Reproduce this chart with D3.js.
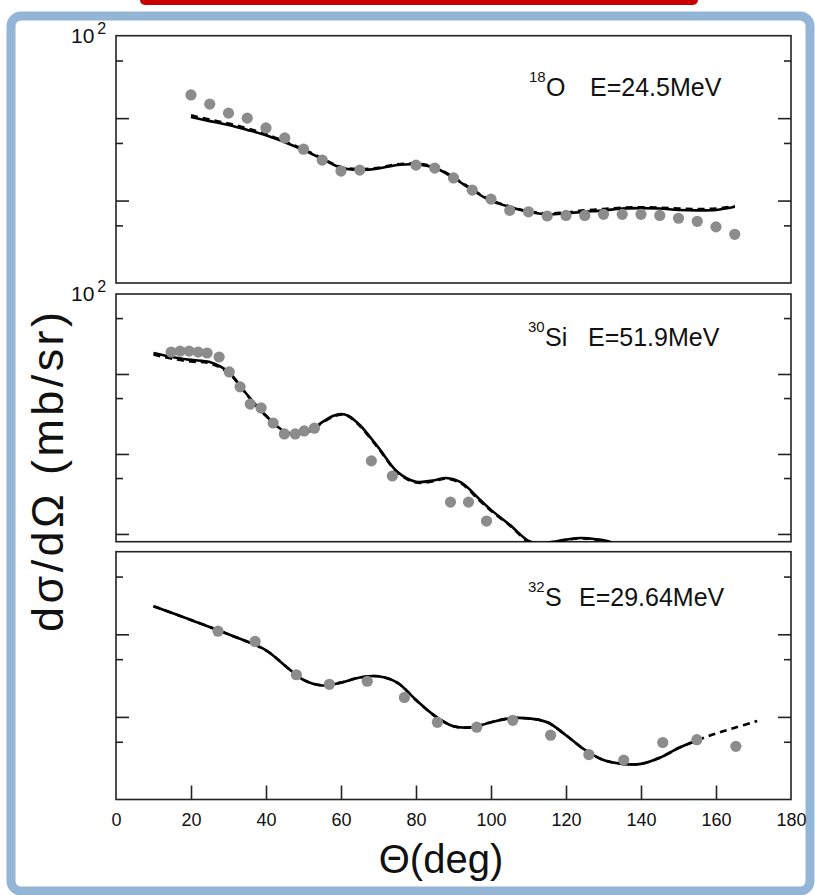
<!DOCTYPE html>
<meta charset="utf-8">
<style>
body {
  margin: 0;
  padding: 0;
  background: #fff;
}
text {
  font-family: "Liberation Sans", Arial, sans-serif;
  fill: #111;
}
.frame {
  fill: #fff;
  stroke: #94b5d5;
  stroke-width: 9px;
}
.box {
  fill: none;
  stroke: #222;
  stroke-width: 1.6px;
}
.tick line {
  stroke: #222;
  stroke-width: 1.6px;
}
.solid {
  fill: none;
  stroke: #000;
  stroke-width: 2.6px;
}
.dashed {
  fill: none;
  stroke: #000;
  stroke-width: 2.6px;
  stroke-dasharray: 7,5;
}
.dot {
  fill: #8c8c8c;
}
</style>
<body>
<script src="https://cdn.jsdelivr.net/npm/d3@7"></script>
<script>

// x axis
var xTicks = [0, 20, 40, 60, 80, 100, 120, 140, 160, 180];
var yMajor = [10, 1, 0.1];
var yMinor = [50, 5, 0.5];

// 18O  E=24.5MeV
var o18Angle = [20, 25, 30, 35, 40, 45, 50, 55, 60, 65, 80, 85, 90, 95, 100, 105, 110, 115, 120, 125, 130, 135, 140, 145, 150, 155, 160, 165];
var o18Data  = [19.1, 14.8, 11.5, 10.0, 7.6, 5.75, 4.2, 3.1, 2.28, 2.34, 2.69, 2.48, 1.88, 1.34, 1.04, 0.76, 0.73, 0.65, 0.66, 0.66, 0.68, 0.68, 0.68, 0.66, 0.61, 0.56, 0.48, 0.39];
var o18CurveAngle = [20, 25, 30, 35, 40, 45, 50, 55, 60, 65, 70, 75, 80, 85, 90, 95, 100, 105, 110, 115, 120, 125, 130, 135, 140, 145, 150, 155, 160, 165];
var o18Solid  = [10.3, 9.2, 8.25, 7.2, 6.2, 5.1, 4.1, 3.2, 2.5, 2.35, 2.45, 2.7, 2.75, 2.5, 1.88, 1.34, 0.99, 0.84, 0.73, 0.68, 0.70, 0.73, 0.76, 0.80, 0.81, 0.80, 0.77, 0.76, 0.77, 0.84];
var o18Dashed = [10.8, 9.6, 8.6, 7.5, 6.4, 5.2, 4.2, 3.25, 2.55, 2.4, 2.5, 2.75, 2.8, 2.55, 1.92, 1.37, 1.01, 0.85, 0.74, 0.70, 0.72, 0.76, 0.79, 0.82, 0.83, 0.82, 0.80, 0.79, 0.80, 0.86];

// 30Si  E=51.9MeV
var si30Angle = [14.7, 17.1, 19.5, 21.9, 24.3, 27.5, 30.2, 33.1, 35.8, 38.7, 41.9, 44.9, 47.8, 50.2, 52.9, 68.1, 73.7, 89.2, 94.0, 98.8];
var si30Data  = [18.8, 19.3, 19.3, 18.8, 18.3, 16.3, 10.6, 6.9, 4.2, 3.76, 2.44, 1.78, 1.78, 1.94, 2.1, 0.82, 0.53, 0.25, 0.25, 0.145];
var si30CurveAngle = [10, 15, 20, 25, 30, 35, 40, 45, 48, 52, 55, 58, 60, 62, 65, 70, 75, 80, 85, 88, 92, 97, 100, 105, 110, 113, 116, 120, 124, 128, 132, 136];
var si30Solid  = [18.3, 16.3, 15, 14.1, 10.6, 5.5, 3.0, 1.9, 1.78, 2.0, 2.5, 3.0, 3.16, 3.0, 2.3, 1.2, 0.6, 0.45, 0.47, 0.50, 0.44, 0.27, 0.2, 0.13, 0.082, 0.076, 0.079, 0.085, 0.089, 0.086, 0.079, 0.06];
var si30Dashed = [17.5, 15.5, 14.3, 13.6, 10.3, 5.4, 3.0, 1.88, 1.75, 1.95, 2.45, 2.95, 3.1, 2.95, 2.25, 1.17, 0.59, 0.44, 0.46, 0.49, 0.43, 0.26, 0.195, 0.128, 0.08, 0.075, 0.078, 0.084, 0.088, 0.085, 0.078, 0.06];

// 32S  E=29.64MeV
var s32Angle = [27.2, 37.1, 48.1, 56.9, 67, 76.9, 85.7, 96.2, 105.8, 115.9, 126.1, 135.4, 145.8, 154.9, 165.3];
var s32Data  = [10.9, 8.2, 3.24, 2.48, 2.7, 1.72, 0.86, 0.75, 0.91, 0.6, 0.35, 0.30, 0.49, 0.53, 0.44];
var s32CurveAngle = [10, 20, 30, 40, 45, 50, 55, 60, 65, 70, 75, 80, 85, 90, 95, 100, 105, 110, 115, 120, 125, 130, 135, 140, 145, 150, 154];
var s32Solid = [21.9, 14.9, 10, 6.4, 4.2, 2.8, 2.4, 2.6, 3.0, 3.1, 2.6, 1.6, 1.03, 0.77, 0.75, 0.86, 0.96, 0.96, 0.86, 0.6, 0.40, 0.30, 0.27, 0.27, 0.32, 0.42, 0.50];
var s32DashAngle = [10, 20, 30, 40, 45, 50, 55, 60, 65, 70, 75, 80, 85, 90, 95, 100, 105, 110, 115, 120, 125, 130, 135, 140, 145, 150, 155, 160, 165, 171];
var s32Dashed = [21.9, 14.9, 10, 6.4, 4.2, 2.8, 2.4, 2.6, 3.0, 3.1, 2.6, 1.6, 1.03, 0.77, 0.75, 0.86, 0.96, 0.96, 0.86, 0.6, 0.40, 0.30, 0.27, 0.27, 0.32, 0.42, 0.52, 0.63, 0.74, 0.89];

var panels = [
  { nucl: "18", el: "O", energy: "E=24.5MeV", top: 35.7, bottom: 283, lo: 0.1, labelY: 96, elX: 546, eX: 590, showTop: true,
    pts: [o18Angle, o18Data], solid: [o18CurveAngle, o18Solid], dashed: [o18CurveAngle, o18Dashed] },
  { nucl: "30", el: "Si", energy: "E=51.9MeV", top: 294, bottom: 541.7, lo: 0.08, labelY: 346, elX: 545, eX: 588, showTop: true,
    pts: [si30Angle, si30Data], solid: [si30CurveAngle, si30Solid], dashed: [si30CurveAngle, si30Dashed] },
  { nucl: "32", el: "S", energy: "E=29.64MeV", top: 551.7, bottom: 799.5, lo: 0.1, labelY: 606, elX: 545, eX: 579, showTop: false,
    pts: [s32Angle, s32Data], solid: [s32CurveAngle, s32Solid], dashed: [s32DashAngle, s32Dashed] }
];

var W = 815, H = 895,
    left = 116, right = 791;

var svg = d3.select("body").append("svg")
    .attr("width", W)
    .attr("height", H);

// red bar and blue frame
svg.append("rect")
    .attr("x", 140).attr("y", -8)
    .attr("width", 558).attr("height", 13)
    .attr("rx", 5)
    .style("fill", "#c90000");
svg.append("rect")
    .attr("class", "frame")
    .attr("x", 11).attr("y", 16)
    .attr("width", 799).attr("height", 875)
    .attr("rx", 10);

var x = d3.scaleLinear().domain([0, 180]).range([left, right]);

panels.forEach(function(p, i) {
  var y = d3.scaleLog().domain([p.lo, 100]).range([p.bottom, p.top]);
  var g = svg.append("g");

  g.append("clipPath").attr("id", "clip" + i)
    .append("rect")
      .attr("x", left).attr("y", p.top)
      .attr("width", right - left).attr("height", p.bottom - p.top);

  // ticks on both sides, pointing in
  var ticks = yMajor.filter(function(v) { return y(v) < p.bottom - 2; });
  g.append("g").attr("transform", "translate(" + left + ",0)")
      .call(d3.axisRight(y).tickValues(ticks).tickSize(13).tickFormat(""));
  g.append("g").attr("transform", "translate(" + left + ",0)")
      .call(d3.axisRight(y).tickValues(yMinor).tickSize(7).tickFormat(""));
  g.append("g").attr("transform", "translate(" + right + ",0)")
      .call(d3.axisLeft(y).tickValues(ticks).tickSize(13).tickFormat(""));
  g.append("g").attr("transform", "translate(" + right + ",0)")
      .call(d3.axisLeft(y).tickValues(yMinor).tickSize(7).tickFormat(""));
  g.selectAll(".domain").remove();

  g.append("rect")
      .attr("class", "box")
      .attr("x", left).attr("y", p.top)
      .attr("width", right - left).attr("height", p.bottom - p.top);

  var line = d3.line()
      .x(function(d) { return x(d[0]); })
      .y(function(d) { return y(d[1]); })
      .curve(d3.curveCatmullRom);

  var plot = g.append("g").attr("clip-path", "url(#clip" + i + ")");

  plot.append("path")
      .attr("class", "dashed")
      .attr("d", line(d3.zip(p.dashed[0], p.dashed[1])));
  plot.append("path")
      .attr("class", "solid")
      .attr("d", line(d3.zip(p.solid[0], p.solid[1])));

  plot.selectAll(".dot")
      .data(d3.zip(p.pts[0], p.pts[1]))
    .enter().append("circle")
      .attr("class", "dot")
      .attr("cx", function(d) { return x(d[0]); })
      .attr("cy", function(d) { return y(d[1]); })
      .attr("r", 5.6);

  // reaction label
  var lab = g.append("text")
      .attr("y", p.labelY)
      .style("font-size", "25px");
  lab.append("tspan")
      .attr("x", p.elX - 17).attr("dy", -14)
      .style("font-size", "15px")
      .text(p.nucl);
  lab.append("tspan")
      .attr("x", p.elX).attr("dy", 14)
      .text(p.el);
  lab.append("tspan")
      .attr("x", p.eX)
      .text(p.energy);

  if (p.showTop) {
    var t = g.append("text")
        .attr("x", 71).attr("y", p.top + 7)
        .style("font-size", "21px");
    t.append("tspan").text("10");
    t.append("tspan")
        .attr("dx", 3).attr("dy", -9)
        .style("font-size", "16px")
        .text("2");
  }

  if (i === panels.length - 1) {
    var xa = g.append("g")
        .attr("transform", "translate(0," + p.bottom + ")")
        .call(d3.axisBottom(x).tickValues(xTicks).tickSize(-14).tickPadding(14));
    xa.attr("font-size", 18)
        .attr("font-family", "'Liberation Sans', Arial, sans-serif");
    xa.select(".domain").remove();
    xa.selectAll(".tick line").filter(function(d) { return d === 0 || d === 180; }).remove();
    xa.selectAll(".tick text")
        .style("font-size", "18px")
        .style("fill", "#111");
  }
});

// axis titles
svg.append("text")
    .attr("x", 441).attr("y", 873)
    .attr("text-anchor", "middle")
    .style("font-size", "40px")
    .text("\u0398(deg)");

svg.append("text")
    .attr("transform", "translate(63,472) rotate(-90)")
    .attr("text-anchor", "middle")
    .attr("textLength", 320)
    .attr("lengthAdjust", "spacing")
    .style("font-size", "45px")
    .text("d\u03c3/d\u03a9 (mb/sr)");

</script>
